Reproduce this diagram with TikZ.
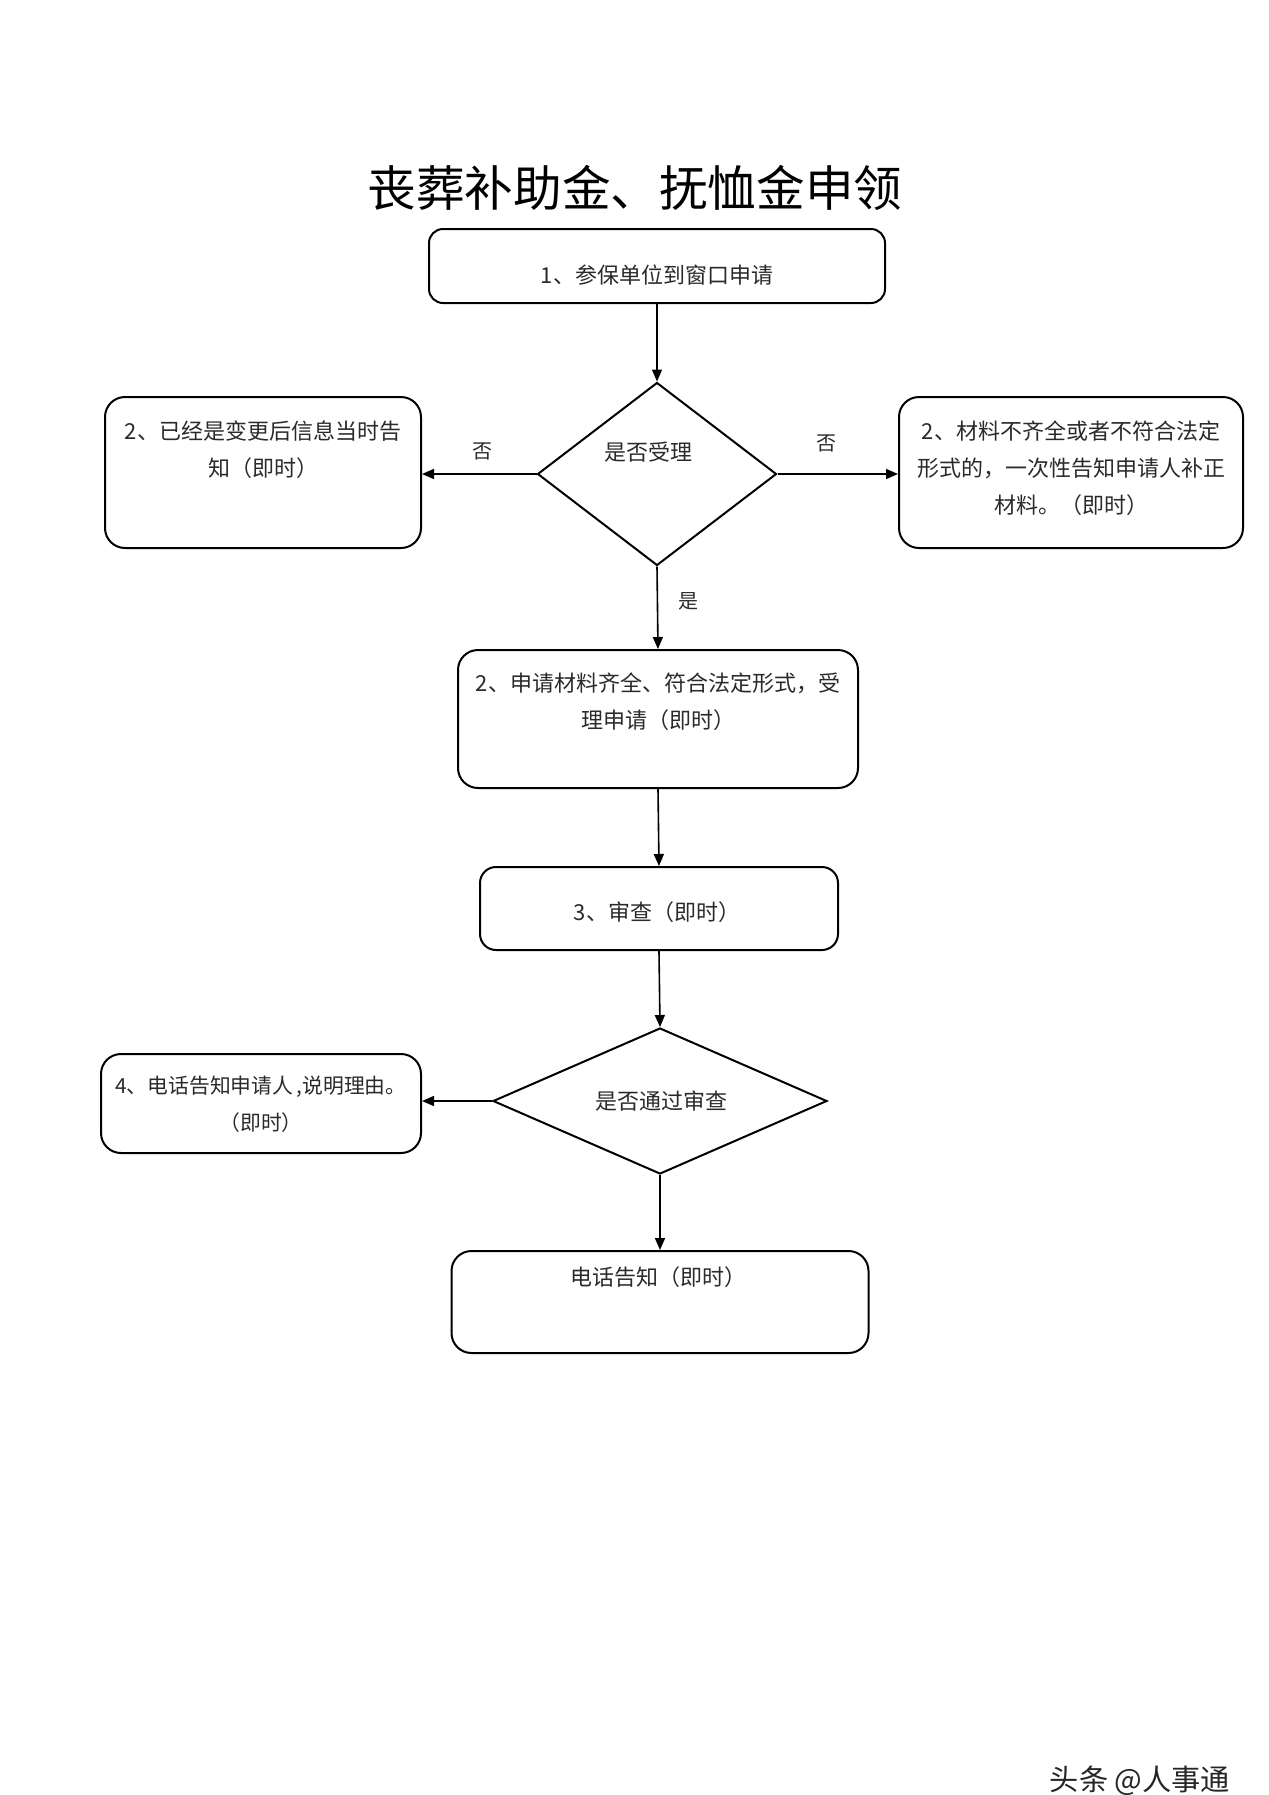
\documentclass[tikz,border=0pt]{standalone}
\usepackage{fontspec}
\newfontfamily\cjk{Noto Sans CJK SC}
\usetikzlibrary{shapes.geometric,arrows.meta}
\definecolor{txt}{HTML}{2A2A2A}
\tikzset{
  box/.style={draw=black, line width=1pt, rounded corners=10pt, inner sep=0pt},
  dia/.style={draw=black, line width=1pt, shape=diamond, inner sep=0pt},
  lbl/.style={font=\cjk\fontsize{11}{18.5}\selectfont, text=txt, align=center, inner sep=0pt},
  yn/.style={font=\cjk\fontsize{10}{12}\selectfont, text=txt, inner sep=0pt},
  arr/.style={line width=0.8pt, -{Triangle[length=6pt,width=5pt]}}
}
\begin{document}
\begin{tikzpicture}[x=0.5pt,y=-0.5pt]
\useasboundingbox (0,0) rectangle (1269,1795);
\fill[white] (0,0) rectangle (1269,1795);
% title
\node[font=\cjk\fontsize{24.3}{30}\selectfont, inner sep=0pt] (title) at (635,188) {丧葬补助金、抚恤金申领};
% boxes
\node[box, rounded corners=7pt, minimum width=228pt, minimum height=37pt] (b1) at (657,266) {};
\node[lbl] (t1) at (657,275) {1、参保单位到窗口申请};
\node[dia, minimum width=119.5pt, minimum height=91.5pt] (d1) at (657,474) {};
\node[lbl] (td1) at (648,452) {是否受理};
\node[box, minimum width=158pt, minimum height=75.5pt] (bA) at (263,472.5) {};
\node[lbl] (tA) at (263,449.5) {2、已经是变更后信息当时告\\知（即时）};
\node[box, minimum width=172pt, minimum height=75.5pt] (bB) at (1071,472.5) {};
\node[lbl] (tB) at (1071,468) {2、材料不齐全或者不符合法定\\形式的，一次性告知申请人补正\\材料。（即时）};
\node[box, minimum width=200pt, minimum height=69pt] (bC) at (658,719) {};
\node[lbl] (tC) at (658,701.5) {2、申请材料齐全、符合法定形式，受\\理申请（即时）};
\node[box, rounded corners=8pt, minimum width=179pt, minimum height=41.5pt] (bD) at (659,908.5) {};
\node[lbl] (tD) at (657,912) {3、审查（即时）};
\node[dia, minimum width=167pt, minimum height=73pt] (d2) at (660,1101) {};
\node[lbl] (td2) at (661,1101) {是否通过审查};
\node[box, minimum width=160pt, minimum height=49.5pt] (bE) at (261,1103.5) {};
\node[lbl, font=\cjk\fontsize{10.4}{18.5}\selectfont] (tE) at (261,1104.5) {4、电话告知申请人\,,说明理由。\\（即时）};
\node[box, minimum width=208.5pt, minimum height=51pt] (bF) at (660,1302) {};
\node[lbl] (tF) at (658,1277) {电话告知（即时）};
% connectors
\draw[arr] (b1.south) -- (d1.north);
\draw[arr] (d1.west) -- (bA.east |- d1.west);
\draw[arr] (d1.east) -- (bB.west |- d1.east);
\draw[arr] (d1.south) -- (bC.north);
\draw[arr] (bC.south) -- (bD.north);
\draw[arr] (bD.south) -- (d2.north);
\draw[arr] (d2.west) -- (bE.east |- d2.west);
\draw[arr] (d2.south) -- (bF.north);
% branch labels
\node[yn] (no1) at (482,451) {否};
\node[yn] (no2) at (826,443) {否};
\node[yn] (yes1) at (688,601) {是};
% watermark
\node[font=\cjk\fontsize{14.6}{16}\selectfont, text=black!85, inner sep=0pt] (wm) at (1140,1781) {头条 @人事通};
\end{tikzpicture}
\end{document}
